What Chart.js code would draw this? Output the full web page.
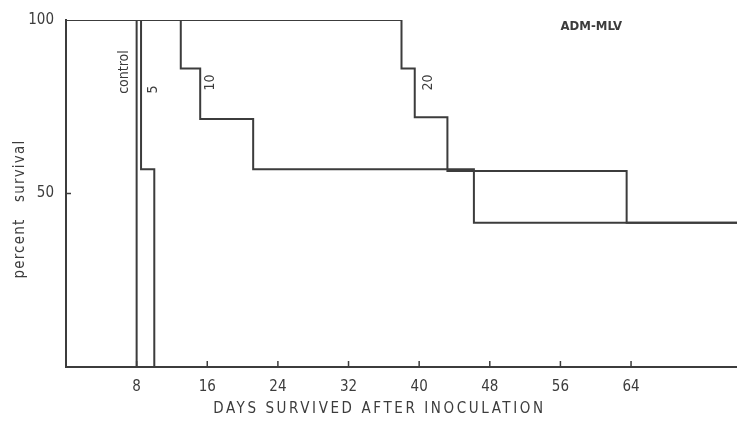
<!DOCTYPE html>
<html>
<head>
<meta charset="utf-8">
<script src="https://cdn.jsdelivr.net/npm/chart.js@4/dist/chart.umd.min.js"></script>
<style>
  html, body { margin: 0; padding: 0; background: #fff; }
  #wrap { position: relative; width: 737px; height: 425px; }
</style>
</head>
<body>
<div id="wrap"><canvas id="surv" width="737" height="425"></canvas></div>
<script>
// ── Data ─────────────────────────────────────────────────────────────────────
const controlDays = [0, 8];
const controlSurv = [100, 0];

const dose5Days = [0, 8.5, 10];
const dose5Surv = [100, 57, 0];

const dose10Days = [0, 13, 15.2, 21.2, 46.2, 76];
const dose10Surv = [100, 86, 71.5, 57, 41.6, 41.6];

const dose20Days = [0, 38, 39.5, 43.2, 63.5, 76];
const dose20Surv = [100, 86, 72, 56.5, 41.6, 41.6];

const xTickLabels = [8, 16, 24, 32, 40, 48, 56, 64];
const yTickLabels = [50, 100];

// curve labels: text, day, percent
const curveLabels = [
  ['control', 6.6, 85],
  ['5',       9.9, 80],
  ['10',     16.3, 82],
  ['20',     41.0, 82]
];

const X_TITLE = 'DAYS SURVIVED AFTER INOCULATION';
const Y_TITLE = 'percent   survival';

const FONT = "'DejaVu Sans Condensed', 'DejaVu Sans', sans-serif";
const INK  = '#3c3c3c';

function pts(xs, ys) { return xs.map((x, i) => ({ x, y: ys[i] })); }

function series(label, xs, ys) {
  return { label, data: pts(xs, ys), stepped: true, borderColor: INK,
           borderWidth: 2, pointRadius: 0, fill: false };
}

// ── Plugins ──────────────────────────────────────────────────────────────────
const decor = {
  id: 'decor',
  afterDatasetsDraw(chart) {
    const { ctx, scales: { x, y }, chartArea } = chart;
    ctx.save();
    // small inward ticks on both axes
    ctx.strokeStyle = INK;
    ctx.lineWidth = 1.5;
    xTickLabels.forEach(d => {
      const px = x.getPixelForValue(d);
      ctx.beginPath();
      ctx.moveTo(px, chartArea.bottom);
      ctx.lineTo(px, chartArea.bottom - 6);
      ctx.stroke();
    });
    const p50 = y.getPixelForValue(50);
    ctx.beginPath();
    ctx.moveTo(chartArea.left, p50);
    ctx.lineTo(chartArea.left + 5, p50);
    ctx.stroke();

    // curve labels, written upward
    ctx.fillStyle = INK;
    ctx.font = '14px ' + FONT;
    ctx.textAlign = 'center';
    ctx.textBaseline = 'middle';
    curveLabels.forEach(([t, d, p]) => {
      ctx.save();
      ctx.translate(x.getPixelForValue(d), y.getPixelForValue(p));
      ctx.rotate(-Math.PI / 2);
      ctx.fillText(t, 0, 0);
      ctx.restore();
    });

    // panel title
    ctx.font = 'bold 13px ' + FONT;
    ctx.fillText('ADM-MLV', x.getPixelForValue(59.5), y.getPixelForValue(98));

    // axis titles (letter-spaced like the typeset original)
    ctx.font = '15px ' + FONT;
    ctx.letterSpacing = '2.6px';
    ctx.fillText(X_TITLE, x.getPixelForValue(35.5), 409);

    ctx.letterSpacing = '1.2px';
    ctx.save();
    ctx.translate(20, y.getPixelForValue(45.5));
    ctx.rotate(-Math.PI / 2);
    ctx.fillText(Y_TITLE, 0, 0);
    ctx.restore();
    ctx.restore();
  }
};

// ── Chart ────────────────────────────────────────────────────────────────────
new Chart(document.getElementById('surv'), {
  type: 'line',
  data: {
    datasets: [
      series('control', controlDays, controlSurv),
      series('5',  dose5Days,  dose5Surv),
      series('10', dose10Days, dose10Surv),
      series('20', dose20Days, dose20Surv)
    ]
  },
  options: {
    responsive: false,
    animation: false,
    layout: { padding: { top: 20, right: 0, left: 0, bottom: 0 } },
    plugins: { legend: { display: false }, tooltip: { enabled: false } },
    scales: {
      x: {
        type: 'linear', min: 0, max: 76,
        afterBuildTicks: s => { s.ticks = xTickLabels.map(v => ({ value: v })); },
        afterFit: s => { s.height = 58; },
        grid: { display: false },
        border: { display: true, color: INK, width: 2 },
        ticks: { color: INK, font: { family: FONT, size: 15 }, padding: 3, maxRotation: 0 }
      },
      y: {
        min: 0, max: 100,
        afterBuildTicks: s => { s.ticks = yTickLabels.map(v => ({ value: v })); },
        afterFit: s => { s.width = 66; },
        grid: { display: false },
        border: { display: true, color: INK, width: 2 },
        ticks: { color: INK, font: { family: FONT, size: 15 }, padding: 4 }
      }
    }
  },
  plugins: [decor]
});
</script>
</body>
</html>
